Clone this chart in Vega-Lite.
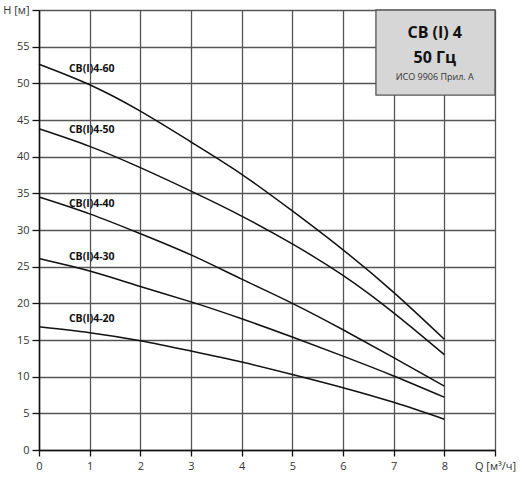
{
  "$schema": "https://vega.github.io/schema/vega-lite/v6.json",
  "width": 456,
  "height": 440,
  "autosize": {"type": "none"},
  "padding": {"left": 39, "top": 10, "right": 25, "bottom": 30},
  "background": "white",
  "config": {
    "font": "Open Sans",
    "view": {"stroke": null},
    "axis": {
      "gridColor": "#555",
      "gridWidth": 1.3,
      "gridOpacity": 1,
      "domainColor": "#111",
      "domainWidth": 1.5,
      "tickColor": "#111",
      "tickWidth": 1.3,
      "labelFont": "Open Sans",
      "labelFontSize": 11,
      "labelColor": "#333",
      "labelOverlap": false,
      "labelFlush": false,
      "title": null
    }
  },
  "datasets": {
    "curves": [
      {"s": "60", "q": 0, "h": 52.6}, {"s": "60", "q": 1, "h": 49.8}, {"s": "60", "q": 2, "h": 46.2}, {"s": "60", "q": 3, "h": 42.0}, {"s": "60", "q": 4, "h": 37.6}, {"s": "60", "q": 5, "h": 32.6}, {"s": "60", "q": 6, "h": 27.3}, {"s": "60", "q": 7, "h": 21.5}, {"s": "60", "q": 8, "h": 15.1},
      {"s": "50", "q": 0, "h": 43.8}, {"s": "50", "q": 1, "h": 41.4}, {"s": "50", "q": 2, "h": 38.5}, {"s": "50", "q": 3, "h": 35.3}, {"s": "50", "q": 4, "h": 31.9}, {"s": "50", "q": 5, "h": 28.1}, {"s": "50", "q": 6, "h": 23.8}, {"s": "50", "q": 7, "h": 18.7}, {"s": "50", "q": 8, "h": 13.0},
      {"s": "40", "q": 0, "h": 34.5}, {"s": "40", "q": 1, "h": 32.2}, {"s": "40", "q": 2, "h": 29.5}, {"s": "40", "q": 3, "h": 26.6}, {"s": "40", "q": 4, "h": 23.3}, {"s": "40", "q": 5, "h": 20.0}, {"s": "40", "q": 6, "h": 16.4}, {"s": "40", "q": 7, "h": 12.6}, {"s": "40", "q": 8, "h": 8.7},
      {"s": "30", "q": 0, "h": 26.1}, {"s": "30", "q": 1, "h": 24.4}, {"s": "30", "q": 2, "h": 22.3}, {"s": "30", "q": 3, "h": 20.2}, {"s": "30", "q": 4, "h": 17.9}, {"s": "30", "q": 5, "h": 15.4}, {"s": "30", "q": 6, "h": 12.8}, {"s": "30", "q": 7, "h": 10.1}, {"s": "30", "q": 8, "h": 7.2},
      {"s": "20", "q": 0, "h": 16.8}, {"s": "20", "q": 1, "h": 16.0}, {"s": "20", "q": 2, "h": 14.9}, {"s": "20", "q": 3, "h": 13.5}, {"s": "20", "q": 4, "h": 12.0}, {"s": "20", "q": 5, "h": 10.3}, {"s": "20", "q": 6, "h": 8.5}, {"s": "20", "q": 7, "h": 6.5}, {"s": "20", "q": 8, "h": 4.2}
    ],
    "labels": [
      {"t": "CB(I)4-60", "q": 0.59, "h": 52.0},
      {"t": "CB(I)4-50", "q": 0.59, "h": 43.7},
      {"t": "CB(I)4-40", "q": 0.59, "h": 33.6},
      {"t": "CB(I)4-30", "q": 0.59, "h": 26.3},
      {"t": "CB(I)4-20", "q": 0.59, "h": 17.8}
    ],
    "box": [{"q": 6.65, "q2": 9, "h": 48.4, "h2": 60}],
    "boxtitle": [
      {"t": "CB (I) 4", "q": 7.81, "h": 56.9},
      {"t": "50 Гц", "q": 7.81, "h": 53.5}
    ],
    "boxnote": [
      {"t": "ИСО 9906 Прил. А", "q": 7.81, "h": 50.9}
    ]
  },
  "encoding": {
    "x": {"field": "q", "type": "quantitative", "scale": {"domain": [0, 9], "nice": false, "zero": false},
          "axis": {"values": [0,1,2,3,4,5,6,7,8,9], "grid": true, "tickSize": 6, "labelPadding": 4, "labelExpr": "datum.value == 9 ? 'Q [м³/ч]' : datum.label"}},
    "y": {"field": "h", "type": "quantitative", "scale": {"domain": [0, 60], "nice": false, "zero": false},
          "axis": {"values": [0,5,10,15,20,25,30,35,40,45,50,55,60], "grid": true, "tickSize": 7, "labelPadding": 3, "labelExpr": "datum.value == 60 ? 'H [м]' : datum.label"}}
  },
  "layer": [
    {
      "data": {"name": "curves"},
      "mark": {"type": "line", "color": "#111", "strokeWidth": 1.5, "interpolate": "natural"},
      "encoding": {
        "detail": {"field": "s"}
      }
    },
    {
      "data": {"name": "labels"},
      "mark": {"type": "text", "align": "left", "baseline": "middle", "fontWeight": "bold", "fontSize": 10.5, "color": "#111"},
      "encoding": {
        "text": {"field": "t"}
      }
    },
    {
      "data": {"name": "box"},
      "mark": {"type": "rect", "fill": "#d6d6d6", "stroke": "#555", "strokeWidth": 1.3},
      "encoding": {
        "x2": {"field": "q2"},
        "y2": {"field": "h2"}
      }
    },
    {
      "data": {"name": "boxtitle"},
      "mark": {"type": "text", "align": "center", "baseline": "middle", "color": "#111", "fontSize": 16, "fontWeight": "bold"},
      "encoding": {
        "text": {"field": "t"}
      }
    },
    {
      "data": {"name": "boxnote"},
      "mark": {"type": "text", "align": "center", "baseline": "middle", "color": "#333", "fontSize": 9},
      "encoding": {
        "text": {"field": "t"}
      }
    }
  ]
}
